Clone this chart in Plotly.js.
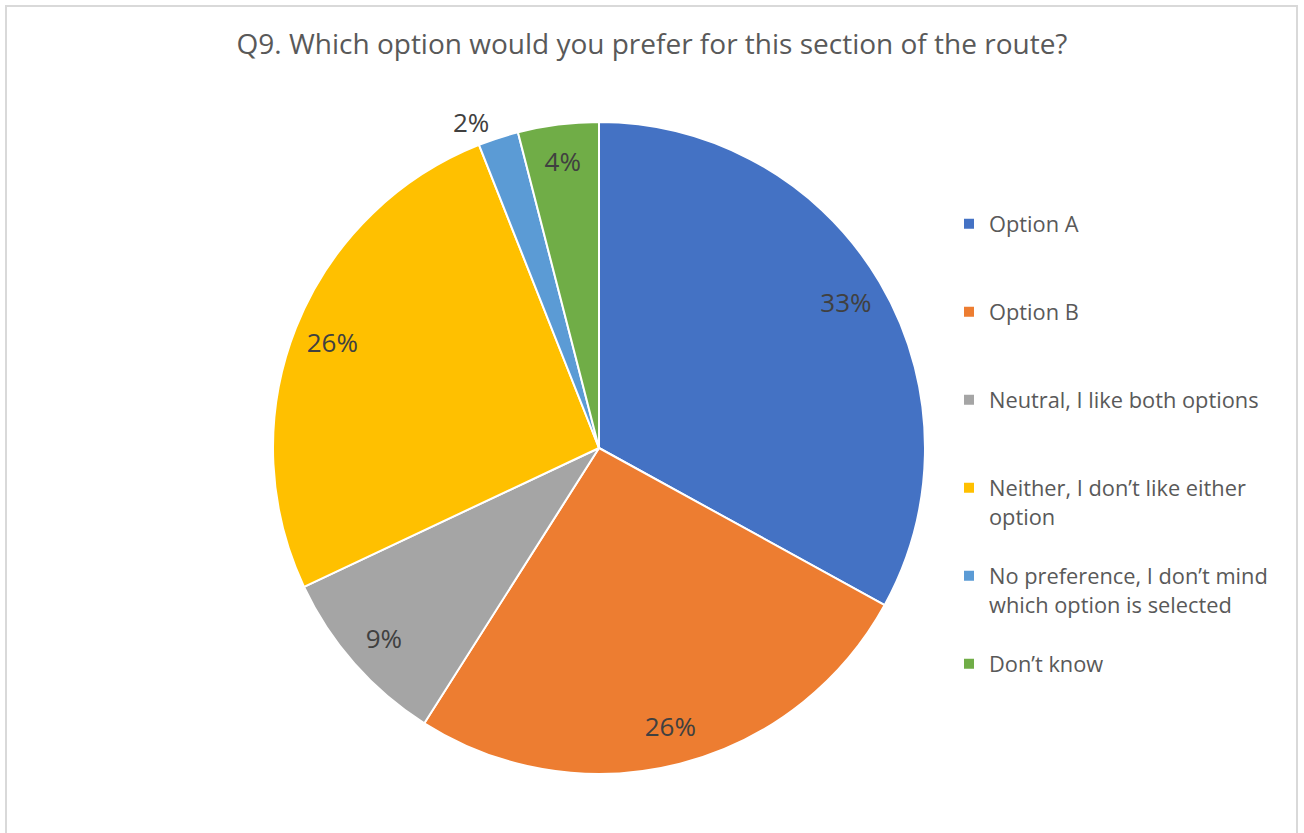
<!DOCTYPE html>
<html>
<head>
<meta charset="utf-8">
<script src="https://cdn.plot.ly/plotly-3.0.1.min.js"></script>
<style>
  html, body { margin: 0; padding: 0; background: #ffffff; overflow: hidden; }
  #frame { position: absolute; left: 5px; top: 5px; width: 1293px; height: 860px; border: 2px solid #d9d9d9; box-sizing: border-box; pointer-events: none; z-index: 5; }
  #chart { position: absolute; left: 0; top: 0; width: 1304px; height: 833px; }
</style>
</head>
<body>
<div id="chart"></div>
<div id="frame"></div>
<script>
const titleText = "Q9. Which option would you prefer for this section of the route?";
const categories = [
  "Option A",
  "Option B",
  "Neutral, I like both options",
  "Neither, I don’t like either<br>option",
  "No preference, I don’t mind<br>which option is selected",
  "Don’t know"
];
const values = [33, 26, 9, 26, 2, 4];
const colors = ["#4472c4", "#ed7d31", "#a5a5a5", "#ffc000", "#5b9bd5", "#70ad47"];
// which labels Excel drew outside the pie
const labelOutside = [false, false, false, false, true, false];

const FONT = "'Open Sans', Lato, sans-serif";
const LABEL_FONT = { family: FONT, size: 26, color: "#404040" };
const legendLabels = categories.map(c => c.indexOf("<br>") >= 0 ? c + "<br> " : c + "<br> <br> ");
const pieDomain = { x: [273/1304, 925/1304], y: [1 - 774/833, 1 - 122/833] };

const data = [
  {
    type: "pie",
    labels: legendLabels,
    values: values,
    sort: false,
    direction: "clockwise",
    rotation: 0,
    marker: { colors: colors, line: { color: "#ffffff", width: 2 } },
    texttemplate: "%{percent:.0%}",
    textposition: labelOutside.map(o => o ? "outside" : "none"),
    textfont: LABEL_FONT,
    outsidetextfont: LABEL_FONT,
    domain: pieDomain,
    hoverinfo: "label+percent"
  },
  {
    // transparent ring, only used to place the inside data labels near the rim
    type: "pie",
    labels: legendLabels,
    values: values,
    sort: false,
    direction: "clockwise",
    rotation: 0,
    hole: 0.76,
    showlegend: false,
    marker: { colors: values.map(() => "rgba(0,0,0,0)"), line: { width: 0 } },
    texttemplate: "%{percent:.0%}",
    textposition: labelOutside.map(o => o ? "none" : "inside"),
    insidetextorientation: "horizontal",
    textfont: LABEL_FONT,
    insidetextfont: LABEL_FONT,
    domain: pieDomain,
    hoverinfo: "skip"
  }
];

const layout = {
  width: 1304,
  height: 833,
  margin: { l: 0, r: 0, t: 0, b: 0 },
  paper_bgcolor: "#ffffff",
  title: {
    text: titleText,
    font: { family: FONT, size: 28, color: "#595959" },
    x: 0.5, xanchor: "center", y: 1 - 44/833, yanchor: "middle"
  },
  showlegend: true,
  legend: {
    x: 949/1304, xanchor: "left",
    y: 1 - 203/833, yanchor: "top",
    valign: "top",
    font: { family: FONT, size: 21.8, color: "#595959" },
    itemclick: false, itemdoubleclick: false
  }
};

Plotly.newPlot("chart", data, layout, { displayModeBar: false, staticPlot: true });
</script>
</body>
</html>
